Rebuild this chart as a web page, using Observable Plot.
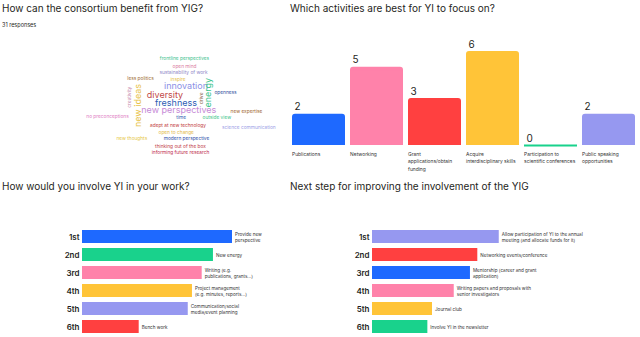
<!DOCTYPE html>
<html>
<head>
<meta charset="utf-8">
<script src="https://cdn.jsdelivr.net/npm/d3@7"></script>
<script src="https://cdn.jsdelivr.net/npm/@observablehq/plot@0.6"></script>
<style>
  body { margin: 0; background: #fff; }
  #board { position: relative; width: 640px; height: 337px; overflow: hidden; font-family: Inter, "Noto Sans", sans-serif; color: #1f1f23; }
  .title { position: absolute; font-size: 10px; white-space: nowrap; line-height: 12px; }
  .sub { position: absolute; font-size: 5.5px; white-space: nowrap; }
  .panel { position: absolute; }
  .panel svg { overflow: visible; }
</style>
</head>
<body>
<div id="board">
  <div class="title" style="left:2px;top:2px">How can the consortium benefit from YIG?</div>
  <div class="sub" style="left:2px;top:22px">31 responses</div>
  <div class="title" style="left:290px;top:2px">Which activities are best for YI to focus on?</div>
  <div class="title" style="left:2px;top:180px">How would you involve YI in your work?</div>
  <div class="title" style="left:290px;top:180px">Next step for improving the involvement of the YIG</div>
  <div class="panel" id="cloud" style="left:0;top:40px"></div>
  <div class="panel" id="activities" style="left:280px;top:30px"></div>
  <div class="panel" id="involve" style="left:0;top:200px"></div>
  <div class="panel" id="nextstep" style="left:320px;top:200px"></div>
</div>
<script>
// Palette
const blue = "#1e69ff", green = "#19d28c", pink = "#ff82aa", red = "#ff4040", yellow = "#ffc438", lavender = "#9698f0";

// --- Word cloud: answers, mention counts, colours and cloud layout (x, y, rotation)
const words = ["frontline perspectives", "open mind", "sustainability of work", "less politics", "inspire",
  "innovation", "energy", "openness", "diversity", "drive", "creativity", "new ideas", "freshness",
  "new perspectives", "new expertise", "no preconceptions", "time", "outside view",
  "adept at new technology", "science communication", "open to change", "new thoughts",
  "modern perspective", "thinking out of the box", "informing future research"];
const wordCounts = [1, 1, 1, 1, 1, 2, 2, 1, 2, 1, 1, 2, 2, 2, 1, 1, 1, 1, 1, 1, 1, 1, 1, 1, 1];
const wordColors = ["#3cbf8c", "#d97aa0", "#8f88c8", "#9c6b32", "#e6c24a", "#8b90e6", "#3cc48c", "#2f4c9c",
  "#c24a48", "#8a6248", "#c68aae", "#e8c34a", "#2c5cb4", "#c68ad6", "#a0652e", "#e07cc4", "#2e5cb0",
  "#3cc48c", "#c23c3c", "#9ba0e6", "#e3b84a", "#e6c84a", "#2a4ca8", "#c2404a", "#c02e4e"];
const cloudX = [184, 184, 183, 140, 177.5, 185.5, 207.3, 225, 164.5, 201, 129.3, 137.3, 175.5,
  178.3, 246, 107, 180.7, 216.3, 177.5, 248.3, 175.7, 131.3, 186, 180, 180];
const cloudY = [58.3, 66, 72.3, 78, 79.3, 85.3, 92.3, 92, 94.3, 97.7, 96.7, 105, 102.3,
  110, 111, 115.7, 117.3, 117.3, 125.3, 127, 131.7, 137.7, 138, 145.7, 152];
const cloudRotate = [0, 0, 0, 0, 0, 0, -90, 0, 0, -90, -90, -90, 0, 0, 0, 0, 0, 0, 0, 0, 0, 0, 0, 0, 0];

// --- Activities bar chart
const activities = ["Publications", "Networking", "Grant\napplications/obtain\nfunding",
  "Acquire\ninterdisciplinary skills", "Participation to\nscientific conferences", "Public speaking\nopportunities"];
const activityVotes = [2, 5, 3, 6, 0, 2];
const activityColors = [blue, pink, red, yellow, green, lavender];

// --- Ranking: involving YI in your work
const ranks = ["1st", "2nd", "3rd", "4th", "5th", "6th"];
const involveItems = ["Provide new\nperspective", "New energy", "Writing (e.g.\npublications, grants...)",
  "Project management\n(e.g. minutes, reports...)", "Communication/social\nmedia/event planning", "Bench work"];
const involveScores = [100, 87.3, 79.8, 73.3, 70.5, 37.8];
const involveColors = [blue, green, pink, yellow, lavender, red];

// --- Ranking: next step for the YIG
const nextItems = ["Allow participation of YI to the annual\nmeeting (and allocate funds for it)",
  "Networking events/conference", "Mentorship (career and grant\napplication)",
  "Writing papers and proposals with\nsenior investigators", "Journal club", "Involve YI in the newsletter"];
const nextScores = [84.5, 70.2, 65.3, 54.5, 40, 36.9];
const nextColors = [lavender, red, blue, pink, yellow, green];

const font = {fontFamily: "Inter, 'Noto Sans', sans-serif", background: "transparent", color: "#1f1f23"};

// Word cloud
const cloudData = words.map((w, i) => ({word: w, count: wordCounts[i], color: wordColors[i],
  x: cloudX[i], y: cloudY[i], rotate: cloudRotate[i]}));
document.getElementById("cloud").append(Plot.plot({
  width: 280, height: 125, margin: 0, style: font,
  x: {domain: [0, 280], range: [0, 280], axis: null},
  y: {domain: [40, 165], range: [0, 125], axis: null},
  marks: [
    Plot.text(cloudData, {x: "x", y: "y", text: "word", fill: "color", rotate: "rotate",
      fontSize: d => d.count > 1 ? 9 : 4.8, lineAnchor: "middle"})
  ]
}));

// Activities
const actData = activities.map((a, i) => ({activity: a, votes: activityVotes[i], color: activityColors[i]}));
document.getElementById("activities").append(Plot.plot({
  width: 360, height: 145, marginTop: 21, marginBottom: 30, marginLeft: 10, marginRight: 2, style: font,
  x: {domain: activities, paddingInner: 0.085, paddingOuter: 0, axis: null},
  y: {domain: [0, 6], axis: null},
  marks: [
    Plot.barY(actData, {x: "activity", y: "votes", fill: "color", rx: 3}),
    Plot.barY(actData, {x: "activity", y: "votes", fill: "color", insetTop: 4}),
    Plot.tickY(actData.filter(d => d.votes === 0), {x: "activity", y: "votes", stroke: "color", strokeWidth: 2}),
    Plot.text(actData, {x: "activity", y: "votes", text: d => String(d.votes), textAnchor: "start",
      dx: -24.5, dy: -7, fontSize: 10, fill: "#1f1f23"}),
    Plot.text(actData, {x: "activity", y: () => 0, text: "activity", textAnchor: "start", lineAnchor: "top",
      dx: -26.9, dy: 5, fontSize: 4.9, lineHeight: 1.55, fill: "#333"})
  ]
}));

// Ranking charts
function ranking(items, scores, colors, marginLeft, marginRight) {
  const data = ranks.map((r, i) => ({rank: r, item: items[i], score: scores[i], color: colors[i]}));
  return Plot.plot({
    width: 320, height: 137, marginTop: 26, marginBottom: 0, marginLeft, marginRight, style: font,
    x: {domain: [0, 100], axis: null},
    y: {domain: ranks, paddingInner: 0.26, paddingOuter: 0.13, axis: null},
    marks: [
      Plot.barX(data, {y: "rank", x: "score", fill: "color"}),
      Plot.text(data, {y: "rank", text: "rank", frameAnchor: "left", textAnchor: "end", dx: -3,
        fontSize: 8, fontWeight: 600, fill: "#1f1f23"}),
      Plot.text(data, {y: "rank", x: "score", text: "item", textAnchor: "start", lineAnchor: "middle",
        dx: 2.5, fontSize: 4.6, lineHeight: 1.3, fill: "#333"})
    ]
  });
}
document.getElementById("involve").append(ranking(involveItems, involveScores, involveColors, 82, 88));
document.getElementById("nextstep").append(ranking(nextItems, nextScores, nextColors, 52, 118));
</script>
</body>
</html>
